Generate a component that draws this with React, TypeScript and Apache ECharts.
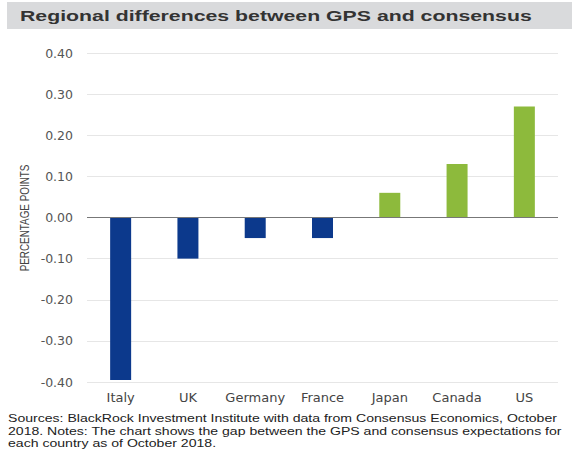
import React, { useEffect, useRef } from "react";
import * as echarts from "echarts";

const categories = ["Italy", "UK", "Germany", "France", "Japan", "Canada", "US"];
const values = [-0.395, -0.1, -0.05, -0.05, 0.06, 0.13, 0.27];
const yTicks = { min: -0.4, max: 0.4, interval: 0.1 };
const titleText = "Regional differences between GPS and consensus";
const yAxisTitle = "PERCENTAGE POINTS";
const footerLines = [
  "Sources: BlackRock Investment Institute with data from Consensus Economics, October",
  "2018. Notes: The chart shows the gap between the GPS and consensus expectations for",
  "each country as of October 2018.",
];

export default function App() {
  const ref = useRef<HTMLDivElement>(null);
  useEffect(() => {
    document.body.style.margin = "0";
    const chart = echarts.init(ref.current!, null, { renderer: "svg" });
    chart.setOption({
      animation: false,
      backgroundColor: "#ffffff",
      textStyle: { fontFamily: "DejaVu Sans, sans-serif" },
      grid: { left: 87, right: 14, top: 53, bottom: 72, containLabel: false },
      graphic: [
        {
          type: "rect",
          shape: { x: 7, y: 2, width: 565, height: 27 },
          style: { fill: "#d9dadc" },
          silent: true,
        },
        {
          type: "text",
          x: 20,
          y: 16,
          scaleX: 1.52,
          style: {
            text: titleText,
            fill: "#333333",
            font: "bold 14px Liberation Sans, Arial, sans-serif",
            verticalAlign: "middle",
          },
        },
        {
          type: "text",
          x: 24,
          y: 218,
          rotation: Math.PI / 2,
          scaleX: 0.76,
          style: {
            text: yAxisTitle,
            fill: "#444444",
            font: "13px Liberation Sans, Arial, sans-serif",
            align: "center",
            verticalAlign: "middle",
          },
        },
        {
          type: "text",
          x: 8,
          y: 412,
          scaleX: 1.28,
          style: {
            text: footerLines.join("\n"),
            fill: "#222222",
            font: "11px Liberation Sans, Arial, sans-serif",
            lineHeight: 12.8,
          },
        },
      ],
      xAxis: {
        type: "category",
        data: categories,
        axisLine: { show: false },
        axisTick: { show: false },
        axisLabel: {
          color: "#444444",
          fontSize: 13,
          margin: 9,
          interval: 0,
          fontFamily: "DejaVu Sans, sans-serif",
        },
      },
      yAxis: {
        type: "value",
        min: yTicks.min,
        max: yTicks.max,
        interval: yTicks.interval,
        axisLine: { show: false },
        axisTick: { show: false },
        axisLabel: {
          color: "#555555",
          fontSize: 12.5,
          margin: 14,
          fontFamily: "DejaVu Sans, sans-serif",
          formatter: (v: number) => v.toFixed(2),
        },
        splitLine: { lineStyle: { color: "#e6e6e6", width: 1 } },
      },
      series: [
        {
          type: "bar",
          barWidth: 21,
          data: values.map((v) => ({
            value: v,
            itemStyle: { color: v < 0 ? "#0c398c" : "#8dba3c" },
          })),
          markLine: {
            silent: true,
            symbol: "none",
            label: { show: false },
            lineStyle: { color: "#777777", width: 1, type: "solid" },
            data: [{ yAxis: 0 }],
          },
        },
      ],
    });
    return () => chart.dispose();
  }, []);
  return <div ref={ref} style={{ width: 572, height: 454 }} />;
}
